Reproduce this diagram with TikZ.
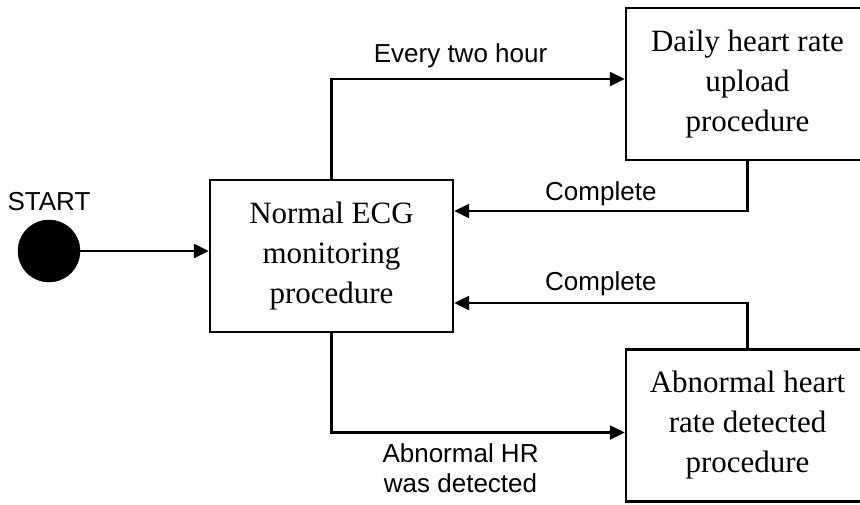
\documentclass[tikz,border=0pt]{standalone}
\usepackage{fontspec}
\setmainfont{Liberation Serif}
\newfontfamily\labelfont{Liberation Sans}
\usetikzlibrary{arrows.meta,positioning,calc}
\tikzstyle{procbox}=[rectangle,draw,line width=2.4pt,minimum width=243pt,minimum height=152pt,align=center,inner sep=0pt,font=\fontsize{31}{40}\selectfont]
\tikzstyle{startdot}=[circle,fill=black,draw,minimum size=62pt,inner sep=0pt]
\tikzstyle{trans} = [draw,line width=2.4pt,-{Triangle[length=15pt,width=14pt]}]
\tikzstyle{translabel} = [font=\labelfont\fontsize{26}{30}\selectfont,inner sep=0pt,align=center]

\begin{document}
\begin{tikzpicture}[x=1pt,y=-1pt]
    \useasboundingbox (0,0) rectangle (860,504);
    \clip (0,0) rectangle (860,504);

    % states
    \node[startdot] (start) at (49,251) {};
    \node[translabel,above=9pt of start] (startlabel) {START};
    \node[procbox] (normal) at (331.5,256) {Normal ECG\\monitoring\\procedure};
    \node[procbox] (daily) at (747.5,84) {Daily heart rate\\upload\\procedure};
    \node[procbox] (abnormal) at (747.5,425.5) {Abnormal heart\\rate detected\\procedure};

    % transitions
    \path[trans] (start) -- (start -| normal.west);
    \path[trans] (normal.north) |- node[translabel,pos=0.72,above=10pt] {Every two hour} ([yshift=5pt]daily.west);
    \path[trans] (daily.south) |- node[translabel,pos=0.75,above=3.5pt] {Complete} ([yshift=45pt]normal.east);
    \path[trans] (abnormal.north) |- node[translabel,pos=0.75,above=5.5pt] {Complete} ([yshift=-47pt]normal.east);
    \path[trans] (normal.south) |- node[translabel,pos=0.72,below=10pt] {Abnormal HR\\was detected} ([yshift=-7pt]abnormal.west);

\end{tikzpicture}
\end{document}
